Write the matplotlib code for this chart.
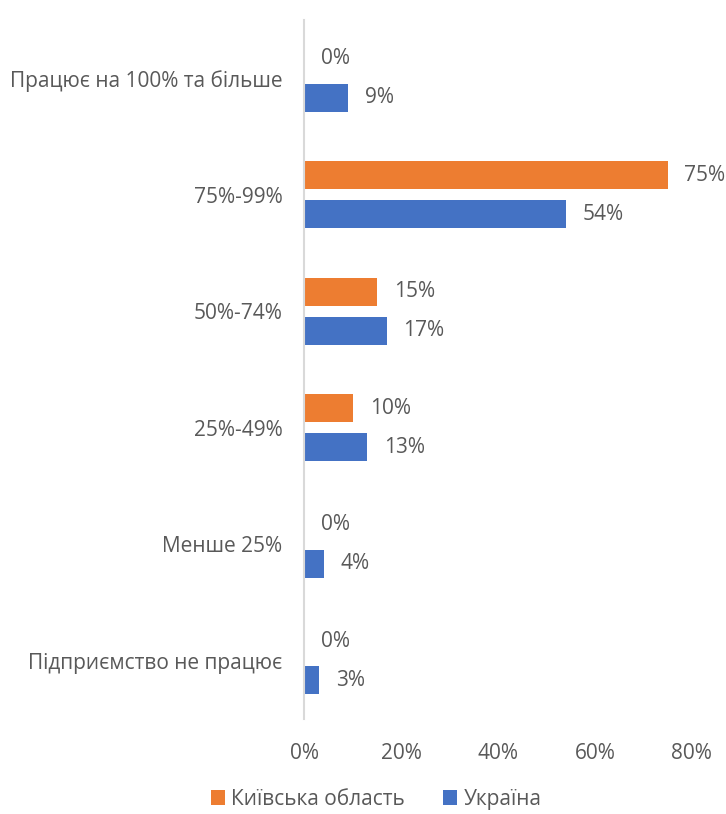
import matplotlib as mpl
mpl.use('Agg')
import matplotlib.pyplot as plt
import numpy as np

plt.rcParams['font.family'] = ['Open Sans', 'DejaVu Sans']

# categories from top to bottom
categories = ["Працює на 100% та більше", "75%-99%", "50%-74%",
              "25%-49%", "Менше 25%", "Підприємство не працює"]
kyiv = [0, 75, 15, 10, 0, 0]
ukraine = [9, 54, 17, 13, 4, 3]
series_names = ["Київська область", "Україна"]
xticks = [0, 20, 40, 60, 80]

orange = '#ED7D31'
blue = '#4472C4'
text_col = '#595959'

fig = plt.figure(figsize=(7.26, 8.14), dpi=100)
ax = fig.add_axes([0.4194, 0.1167, 0.5336, 0.8587])

y = np.arange(len(categories))
h = 0.24
off = 0.168
b1 = ax.barh(y - off, kyiv, height=h, color=orange, label=series_names[0])
b2 = ax.barh(y + off, ukraine, height=h, color=blue, label=series_names[1])

for bars, vals in ((b1, kyiv), (b2, ukraine)):
    for bar, v in zip(bars, vals):
        ax.annotate(f"{v}%", (bar.get_width(), bar.get_y() + bar.get_height() / 2),
                    xytext=(12, 0), textcoords='offset points',
                    ha='left', va='center', fontsize=15, color=text_col)

ax.set_ylim(len(categories) - 0.5, -0.5)
ax.set_xlim(0, 80)
ax.set_yticks(y)
ax.set_yticklabels(categories)
ax.set_xticks(xticks)
ax.set_xticklabels([f"{t}%" for t in xticks])
ax.tick_params(axis='both', length=0, labelsize=15, colors=text_col)
ax.tick_params(axis='y', pad=16)
ax.tick_params(axis='x', pad=17)

for s in ('top', 'right', 'bottom'):
    ax.spines[s].set_visible(False)
ax.spines['left'].set_color('#D9D9D9')
ax.spines['left'].set_linewidth(1.5)

leg = fig.legend(handles=[b1, b2], loc='center', bbox_to_anchor=(0.518, 0.018),
                 ncol=2, frameon=False, fontsize=15, handlelength=0.7,
                 handleheight=0.7, handletextpad=0.3, columnspacing=1.8)
for t in leg.get_texts():
    t.set_color(text_col)

fig.savefig('out.png', dpi=100)
